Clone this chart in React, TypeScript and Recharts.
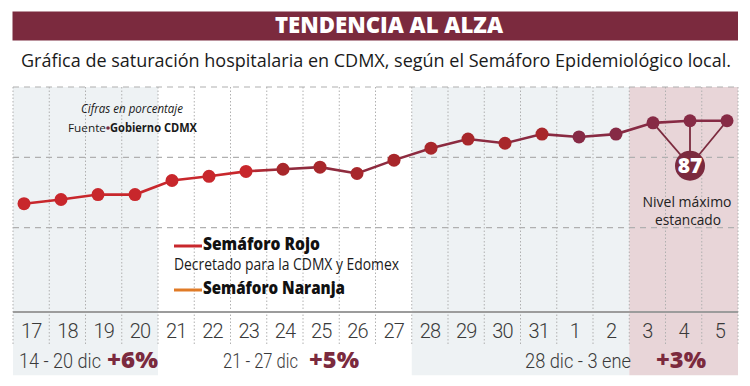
import React from 'react';
import {
  ComposedChart,
  Line,
  XAxis,
  YAxis,
  ReferenceArea,
  ReferenceLine,
  ReferenceDot,
} from 'recharts';

// ---------- data ----------
const DAYS = ['17', '18', '19', '20', '21', '22', '23', '24', '25', '26', '27', '28', '29', '30', '31', '1', '2', '3', '4', '5'];
const SATURATION = [75.4, 76.0, 76.7, 76.7, 78.7, 79.3, 80.0, 80.3, 80.6, 79.7, 81.6, 83.3, 84.6, 84.0, 85.3, 84.9, 85.3, 86.9, 87.2, 87.2];
const Y_DOMAIN: [number, number] = [60, 92];
const GRID_VALUES = [72, 82, 92];
const SHADED_LIGHT_RANGES: [string, string][] = [['17', '20'], ['28', '2']];
const SHADED_PEAK_RANGE: [string, string] = ['3', '5'];
const SHADE_FLOOR = 51;
const PEAK_LABEL = '87';
const PEAK_DAYS = ['3', '4', '5'];
const PEAK_BADGE_DAY = '4';
const PEAK_BADGE_VALUE = 80.8;
const WEEK_LABELS = ['14 - 20 dic', '21 - 27 dic', '28 dic - 3 ene'];
const WEEK_CHANGES = ['+6%', '+5%', '+3%'];

const chartData = DAYS.map((day, i) => ({ day, value: SATURATION[i] }));

// ---------- styles / layout ----------
const CHART_W = 750;
const CHART_H = 386;
const MARGIN = { top: 87, right: 12, bottom: 73, left: 13 };
const PLOT_W = CHART_W - MARGIN.left - MARGIN.right;
const PLOT_H = CHART_H - MARGIN.top - MARGIN.bottom - 1;
const BAND = PLOT_W / DAYS.length;

const MAROON = '#7b2a3e';
const RED = '#c8272c';
const DARK_RED = '#a8272b';
const DOT_MAROON = '#862a45';
const ORANGE = '#e07b27';
const SHADE_LIGHT = '#eef2f4';
const SHADE_PINK = '#e8d5d8';
const GRID = '#b0b0b0';
const FONT = "'Open Sans', 'Noto Sans', sans-serif";

const dotColor = (i: number) => (i < 7 ? RED : i < 15 ? DARK_RED : DOT_MAROON);

// background layer tick: only the dotted day separators
const SeparatorTick = (props: any) => {
  const { x, y, index } = props;
  const left = x - BAND / 2;
  const right = x + BAND / 2;
  const isLast = index === DAYS.length - 1;
  return (
    <g>
      <line x1={left} x2={left} y1={y - PLOT_H} y2={y + 33} stroke={GRID} strokeDasharray="1.5 2" strokeWidth={1} />
      {isLast && (
        <line x1={right} x2={right} y1={y - PLOT_H} y2={y + 33} stroke={GRID} strokeDasharray="1.5 2" strokeWidth={1} />
      )}
    </g>
  );
};

// foreground layer tick: the day label
const DayTick = (props: any) => {
  const { x, y, payload } = props;
  return (
    <text
      x={x}
      y={y + 26}
      textAnchor="middle"
      fontFamily="Roboto, 'Open Sans', sans-serif"
      fontWeight={300}
      fontSize={20}
      letterSpacing={-1}
      fill="#3a3a3a"
    >
      {payload.value}
    </text>
  );
};

const renderDot = (p: any) => (
  <circle key={`dot-${p.index}`} cx={p.cx} cy={p.cy} r={6.5} fill={dotColor(p.index)} />
);

const layerStyle: React.CSSProperties = { position: 'absolute', left: 0, top: 0 };

export default function App() {
  return (
    <div style={{ position: 'absolute', left: 0, top: 0, width: CHART_W, height: CHART_H, background: '#fff' }}>
      {/* background layer: shaded weeks + day separators */}
      <div style={layerStyle}>
        <ComposedChart width={CHART_W} height={CHART_H} data={chartData} margin={MARGIN}>
          <XAxis
            xAxisId="lbl"
            dataKey="day"
            type="category"
            scale="band"
            interval={0}
            height={1}
            tickSize={0}
            tickMargin={0}
            tickLine={false}
            axisLine={false}
            tick={<SeparatorTick />}
          />
          <YAxis domain={Y_DOMAIN} hide width={0} />
          {SHADED_LIGHT_RANGES.map(([a, b]) => (
            <ReferenceArea
              key={`shade-${a}`}
              xAxisId="lbl"
              x1={a}
              x2={b}
              y1={SHADE_FLOOR}
              y2={Y_DOMAIN[1]}
              fill={SHADE_LIGHT}
              fillOpacity={1}
              stroke="none"
              ifOverflow="visible"
            />
          ))}
          <ReferenceArea
            xAxisId="lbl"
            x1={SHADED_PEAK_RANGE[0]}
            x2={SHADED_PEAK_RANGE[1]}
            y1={SHADE_FLOOR}
            y2={Y_DOMAIN[1]}
            fill={SHADE_PINK}
            fillOpacity={1}
            stroke="none"
            ifOverflow="visible"
          />
          {/* invisible carrier series so this layer shares the same scales */}
          <Line
            xAxisId="lbl"
            dataKey="value"
            stroke="transparent"
            dot={false}
            activeDot={false}
            isAnimationActive={false}
          />
        </ComposedChart>
      </div>

      {/* foreground layer: grid, series, annotation, day labels */}
      <div style={layerStyle}>
        <ComposedChart width={CHART_W} height={CHART_H} data={chartData} margin={MARGIN}>
          <defs>
            <linearGradient id="satLineGrad" x1="0" y1="0" x2="1" y2="0">
              <stop offset="0" stopColor={RED} />
              <stop offset="0.31" stopColor={RED} />
              <stop offset="0.37" stopColor="#902b3d" />
              <stop offset="1" stopColor="#852a45" />
            </linearGradient>
          </defs>

          <XAxis
            xAxisId="lbl"
            dataKey="day"
            type="category"
            scale="band"
            interval={0}
            height={1}
            tickSize={0}
            tickMargin={0}
            tickLine={false}
            axisLine={{ stroke: '#9c9c9c', strokeWidth: 2 }}
            tick={<DayTick />}
          />
          <XAxis
            xAxisId="pts"
            dataKey="day"
            type="category"
            scale="point"
            padding={{ left: 11, right: 11 }}
            height={0}
            hide
          />
          <YAxis domain={Y_DOMAIN} hide width={0} />

          {GRID_VALUES.map((v) => (
            <ReferenceLine
              key={`h-${v}`}
              xAxisId="lbl"
              y={v}
              stroke={GRID}
              strokeDasharray="6 5"
              strokeWidth={1.2}
            />
          ))}

          {PEAK_DAYS.map((d) => (
            <ReferenceLine
              key={`seg-${d}`}
              xAxisId="pts"
              segment={[
                { x: d, y: SATURATION[DAYS.indexOf(d)] },
                { x: PEAK_BADGE_DAY, y: PEAK_BADGE_VALUE },
              ]}
              stroke={MAROON}
              strokeWidth={1.8}
              ifOverflow="visible"
            />
          ))}

          <Line
            xAxisId="pts"
            type="linear"
            dataKey="value"
            stroke="url(#satLineGrad)"
            strokeWidth={2.6}
            dot={renderDot}
            activeDot={false}
            isAnimationActive={false}
          />

          <ReferenceDot
            xAxisId="pts"
            x={PEAK_BADGE_DAY}
            y={PEAK_BADGE_VALUE}
            r={15}
            fill={MAROON}
            stroke="none"
            ifOverflow="visible"
            label={{ value: PEAK_LABEL, position: 'center', fill: '#fff', fontSize: 21, fontWeight: 800, fontFamily: FONT }}
          />
        </ComposedChart>
      </div>

      <svg
        width={CHART_W}
        height={CHART_H}
        style={{ position: 'absolute', left: 0, top: 0, pointerEvents: 'none' }}
        fontFamily={FONT}
      >
        <rect x={12.5} y={11.5} width={725.5} height={29} fill={MAROON} />
        <text x={389} y={33} textAnchor="middle" fill="#fff" fontWeight={800} fontSize={22.5} textLength={228} lengthAdjust="spacingAndGlyphs">
          TENDENCIA AL ALZA
        </text>
        <text x={21} y={67} fill="#1a1a1a" fontSize={18.5} textLength={710} lengthAdjust="spacingAndGlyphs">
          Gráfica de saturación hospitalaria en CDMX, según el Semáforo Epidemiológico local.
        </text>

        <text x={132} y={113} textAnchor="middle" fill="#1a1a1a" fontSize={12} fontStyle="italic" textLength={102} lengthAdjust="spacingAndGlyphs">
          Cifras en porcentaje
        </text>
        <text x={68} y={132} fill="#1a1a1a" fontSize={11.5} textLength={38} lengthAdjust="spacingAndGlyphs">
          Fuente
        </text>
        <circle cx={108} cy={128} r={1.8} fill={MAROON} />
        <text x={110} y={132} fill="#1a1a1a" fontSize={11.5} fontWeight={700} textLength={87} lengthAdjust="spacingAndGlyphs">
          Gobierno CDMX
        </text>

        <line x1={174} y1={246} x2={202} y2={246} stroke={RED} strokeWidth={3} />
        <text x={203} y={250} fill="#111" fontWeight={800} fontSize={17} textLength={117} lengthAdjust="spacingAndGlyphs">
          Semáforo Rojo
        </text>
        <text x={174} y={270} fill="#1a1a1a" fontSize={15.5} textLength={225} lengthAdjust="spacingAndGlyphs">
          Decretado para la CDMX y Edomex
        </text>
        <line x1={174} y1={290} x2={202} y2={290} stroke={ORANGE} strokeWidth={3} />
        <text x={203} y={294} fill="#111" fontWeight={800} fontSize={17} textLength={142} lengthAdjust="spacingAndGlyphs">
          Semáforo Naranja
        </text>

        <text x={687} y={207} textAnchor="middle" fill="#222" fontSize={15} textLength={89} lengthAdjust="spacingAndGlyphs">
          Nivel máximo
        </text>
        <text x={688} y={225} textAnchor="middle" fill="#222" fontSize={15} textLength={66} lengthAdjust="spacingAndGlyphs">
          estancado
        </text>

        <text x={19} y={368} fill="#3a3a3a" fontFamily="Roboto, 'Open Sans', sans-serif" fontWeight={300} fontSize={20} textLength={82} lengthAdjust="spacingAndGlyphs">
          {WEEK_LABELS[0]}
        </text>
        <text x={107} y={368} fill={MAROON} fontWeight={800} fontSize={22} textLength={51} lengthAdjust="spacingAndGlyphs">
          {WEEK_CHANGES[0]}
        </text>
        <text x={223} y={368} fill="#3a3a3a" fontFamily="Roboto, 'Open Sans', sans-serif" fontWeight={300} fontSize={20} textLength={75} lengthAdjust="spacingAndGlyphs">
          {WEEK_LABELS[1]}
        </text>
        <text x={309} y={368} fill={MAROON} fontWeight={800} fontSize={22} textLength={50} lengthAdjust="spacingAndGlyphs">
          {WEEK_CHANGES[1]}
        </text>
        <text x={525} y={368} fill="#3a3a3a" fontFamily="Roboto, 'Open Sans', sans-serif" fontWeight={300} fontSize={20} textLength={106} lengthAdjust="spacingAndGlyphs">
          {WEEK_LABELS[2]}
        </text>
        <text x={656} y={368} fill={MAROON} fontWeight={800} fontSize={22} textLength={50} lengthAdjust="spacingAndGlyphs">
          {WEEK_CHANGES[2]}
        </text>
      </svg>
    </div>
  );
}
